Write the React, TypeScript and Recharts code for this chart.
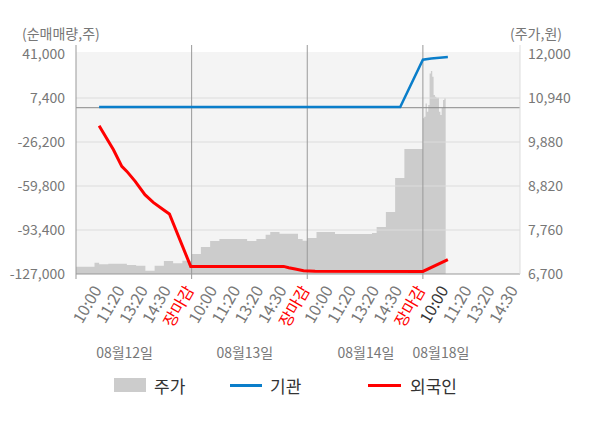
import {
  ComposedChart,
  Area,
  Line,
  XAxis,
  YAxis,
  CartesianGrid,
  ReferenceLine,
  ReferenceArea,
} from "recharts";

const FONT = "'Noto Sans CJK KR', 'Noto Sans', sans-serif";

// x = time slot, 25 slots per trading day, one label every 5 slots
const timeLabels = ["10:00", "11:20", "13:20", "14:30", "장마감"];
const dayStartSlots = [0, 25, 50, 75];
const dateLabels = ["08월12일", "08월13일", "08월14일", "08월18일"];
const dateSlots = [10.5, 36.5, 62.7, 78.9];

const leftTicks = [41000, 7400, -26200, -59800, -93400, -127000];
const rightTicks = [12000, 10940, 9880, 8820, 7760, 6700];

// 주가, one value per slot (08/12 ~ 08/14)
const priceSlots = [
  6876, 6876, 6876, 6876, 6972, 6934, 6934, 6948, 6948, 6948, 6948, 6917, 6917,
  6900, 6900, 6780, 6780, 6900, 6900, 7013, 7013, 6958, 6958, 7020, 7020,
  7182, 7182, 7350, 7350, 7495, 7495, 7543, 7543, 7543, 7543, 7543, 7543, 7495,
  7495, 7543, 7543, 7647, 7712, 7712, 7671, 7671, 7671, 7671, 7543, 7502,
  7567, 7567, 7712, 7712, 7712, 7712, 7664, 7664, 7664, 7664, 7664, 7664, 7664,
  7664, 7688, 7832, 7832, 8194, 8194, 9013, 9013, 9711, 9711, 9711, 9711,
];
// 08/18 open, finer steps
const openPrices = [
  10450, 10490, 10810, 10610, 10771, 11534, 11590, 11453, 11012, 10972, 10948,
  10948, 10610, 10530, 10699, 10892, 10933,
];
const openStep = 0.29;

// 기관
const instSlots = [5, 70.1, 75, 76.8, 80.4];
const instNet = [500, 500, 36650, 37650, 38700];

// 외국인
const foreignSlots = [
  5, 8.1, 9.9, 11, 12.8, 14.9, 16.7, 18.9, 20.2, 24.8, 44.9, 46, 47.4, 49.2,
  51.7, 75, 80.4,
];
const foreignNet = [
  -13745, -32070, -44820, -48640, -56280, -66430, -72310, -77890, -81170,
  -121200, -121200, -122180, -123170, -124470, -124850, -125000, -116070,
];

const priceData = [
  ...priceSlots.map((p, i) => ({ t: i, price: p })),
  ...openPrices.map((p, i) => ({ t: 75 + i * openStep, price: p })),
  { t: 75 + openPrices.length * openStep, price: openPrices[openPrices.length - 1] },
];
const instData = instSlots.map((t, i) => ({ t, value: instNet[i] }));
const foreignData = foreignSlots.map((t, i) => ({ t, value: foreignNet[i] }));

const xTicks = Array.from({ length: 20 }, (_, k) => k * 5);
const fmt = (v: number) => v.toLocaleString("en-US");

const TimeTick = (props: any) => {
  const { x, y, payload } = props;
  const k = Math.round(payload.value / 5);
  const label = k === 0 ? "" : timeLabels[(k - 1) % 5];
  const isClose = label === "장마감";
  const color = isClose ? "#ff0000" : k === 16 ? "#333" : "#777";
  return (
    <g>
      {dayStartSlots.includes(payload.value) && (
        <line x1={x} x2={x} y1={y} y2={y + 5} stroke="#999" />
      )}
      {label && (
        <text
          transform={`translate(${x + 3},${y + 16}) rotate(-60)`}
          textAnchor="end"
          fill={color}
          fontSize={16}
          fontFamily={FONT}
        >
          {label}
        </text>
      )}
    </g>
  );
};

const DateTick = (props: any) => {
  const { x, y, index } = props;
  return (
    <text
      x={x}
      y={y + 15}
      dy="0.355em"
      textAnchor="middle"
      fill="#777"
      fontSize={14}
      fontFamily={FONT}
    >
      {dateLabels[index]}
    </text>
  );
};

const legendText = { fontSize: 17, color: "#333", marginLeft: 8 };

export default function App() {
  return (
    <div
      style={{
        position: "absolute",
        left: 0,
        top: 0,
        width: 600,
        height: 428,
        background: "#fff",
        fontFamily: FONT,
      }}
    >
      <div style={{ position: "absolute", left: 22, top: 23, fontSize: 14, color: "#777" }}>
        (순매매량,주)
      </div>
      <div style={{ position: "absolute", right: 38, top: 23, fontSize: 14, color: "#777" }}>
        (주가,원)
      </div>
      <ComposedChart
        width={600}
        height={428}
        margin={{ top: 45, right: 0, bottom: 60, left: 0 }}
      >
        <CartesianGrid horizontal={false} vertical={false} fill="#f4f4f4" />
        <XAxis
          type="number"
          dataKey="t"
          domain={[0, 96]}
          ticks={xTicks}
          interval={0}
          allowDataOverflow
          height={64}
          tickLine={false}
          tickSize={0}
          tickMargin={0}
          axisLine={{ stroke: "#999" }}
          tick={<TimeTick />}
        />
        <XAxis
          xAxisId="date"
          type="number"
          dataKey="t"
          domain={[0, 96]}
          ticks={dateSlots}
          interval={0}
          allowDataOverflow
          height={30}
          tickLine={false}
          tickSize={0}
          tickMargin={0}
          axisLine={false}
          tick={<DateTick />}
        />
        <YAxis
          yAxisId="left"
          domain={[-127000, 47900]}
          ticks={leftTicks}
          interval={0}
          allowDataOverflow
          width={76}
          tickLine={false}
          tickMargin={5}
          axisLine={{ stroke: "#999" }}
          tickFormatter={fmt}
          tick={{ fill: "#777", fontSize: 14, fontFamily: FONT }}
        />
        <YAxis
          yAxisId="right"
          orientation="right"
          domain={[6700, 12217.7]}
          ticks={rightTicks}
          interval={0}
          allowDataOverflow
          width={80}
          tickLine={false}
          tickMargin={2}
          axisLine={{ stroke: "#ddd" }}
          tickFormatter={fmt}
          tick={{ fill: "#777", fontSize: 14, fontFamily: FONT, textAnchor: "start" }}
        />
        <ReferenceArea
          yAxisId="left"
          y1={42500}
          y2={47900}
          fill="#fff"
          fillOpacity={1}
          stroke="none"
        />
        <Area
          yAxisId="right"
          data={priceData}
          dataKey="price"
          type="stepAfter"
          stroke="none"
          fill="#cccccc"
          fillOpacity={1}
          isAnimationActive={false}
        />
        {leftTicks.slice(1, -1).map((v) => (
          <ReferenceLine key={v} yAxisId="left" y={v} stroke="#dcdcdc" strokeWidth={1} />
        ))}
        <ReferenceLine yAxisId="left" y={0} stroke="#888" strokeWidth={1} />
        {dayStartSlots.slice(1).map((s) => (
          <ReferenceLine key={s} yAxisId="left" x={s} stroke="#999" strokeWidth={1} />
        ))}
        <Line
          yAxisId="left"
          data={instData}
          dataKey="value"
          type="linear"
          stroke="#0A7ECA"
          strokeWidth={2.5}
          dot={false}
          isAnimationActive={false}
        />
        <Line
          yAxisId="left"
          data={foreignData}
          dataKey="value"
          type="linear"
          stroke="#ff0000"
          strokeWidth={3}
          dot={false}
          isAnimationActive={false}
        />
      </ComposedChart>
      <div
        style={{
          position: "absolute",
          top: 374,
          left: 0,
          width: 600,
          height: 22,
          display: "flex",
          alignItems: "center",
        }}
      >
        <div style={{ position: "absolute", left: 114, display: "flex", alignItems: "center" }}>
          <span style={{ display: "inline-block", width: 32, height: 14, background: "#ccc" }} />
          <span style={legendText}>주가</span>
        </div>
        <div style={{ position: "absolute", left: 230, display: "flex", alignItems: "center" }}>
          <span style={{ display: "inline-block", width: 32, height: 3, background: "#0A7ECA" }} />
          <span style={legendText}>기관</span>
        </div>
        <div style={{ position: "absolute", left: 368, display: "flex", alignItems: "center" }}>
          <span style={{ display: "inline-block", width: 33, height: 3, background: "#ff0000" }} />
          <span style={{ ...legendText, marginLeft: 9 }}>외국인</span>
        </div>
      </div>
    </div>
  );
}
